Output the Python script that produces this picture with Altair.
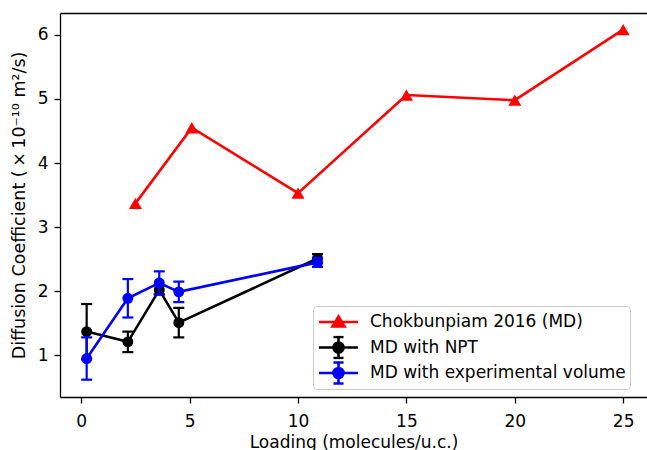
import altair as alt
import pandas as pd

# Diffusion coefficient vs. loading
ref_x = [2.5, 5.1, 10.0, 15.0, 20.0, 25.0]
ref_y = [3.37, 4.55, 3.53, 5.06, 4.98, 6.08]

npt_x = [0.25, 2.15, 3.6, 4.5, 10.9]
npt_y = [1.37, 1.21, 2.02, 1.51, 2.51]
npt_err = [0.43, 0.16, 0.07, 0.23, 0.07]

exp_x = [0.25, 2.15, 3.6, 4.5, 10.9]
exp_y = [0.95, 1.89, 2.13, 1.99, 2.45]
exp_err = [0.33, 0.30, 0.18, 0.16, 0.07]

series_names = ["Chokbunpiam 2016 (MD)", "MD with NPT", "MD with experimental volume"]
series_colors = ["#ff0000", "#000000", "#0000ff"]

x_ticks = [0, 5, 10, 15, 20, 25]
y_ticks = [1, 2, 3, 4, 5, 6]

FONT = "DejaVu Sans"
LW = 2.6

ref = pd.DataFrame({"x": ref_x, "y": ref_y})
npt = pd.DataFrame({"x": npt_x, "y": npt_y, "err": npt_err})
npt["lo"] = npt["y"] - npt["err"]
npt["hi"] = npt["y"] + npt["err"]
exp = pd.DataFrame({"x": exp_x, "y": exp_y, "err": exp_err})
exp["lo"] = exp["y"] - exp["err"]
exp["hi"] = exp["y"] + exp["err"]

xscale = alt.Scale(domain=[-0.98, 26.1], nice=False, zero=False)
yscale = alt.Scale(domain=[0.35, 6.34], nice=False, zero=False)

x_axis = alt.Axis(
    values=x_ticks, title="Loading (molecules/u.c.)", grid=False,
    tickSize=6, tickWidth=1.3, tickColor="black", domainColor="black",
    domainWidth=1.3, labelFont=FONT, labelFontSize=17, labelColor="black",
    labelPadding=10, titleFont=FONT, titleFontSize=17, titleFontWeight="normal",
    titleColor="black", titlePadding=5,
)
y_axis = alt.Axis(
    values=y_ticks, title="Diffusion Coefficient (\u2009×\u200910⁻¹⁰ m²/s)", grid=False,
    tickSize=6, tickWidth=1.3, tickColor="black", domainColor="black",
    domainWidth=1.3, labelFont=FONT, labelFontSize=17, labelColor="black",
    labelPadding=6, titleFont=FONT, titleFontSize=17.5, titleFontWeight="normal",
    titleColor="black", titlePadding=9,
)

X = alt.X("x:Q", scale=xscale, axis=None)
Y = alt.Y("y:Q", scale=yscale, axis=y_axis)
Y_LO = alt.Y("lo:Q", scale=yscale, axis=y_axis)
Y_HI = alt.Y("hi:Q", scale=yscale, axis=y_axis)

# Literature series: line with triangle markers
ref_line = alt.Chart(ref).mark_line(color=series_colors[0], strokeWidth=LW).encode(
    x=alt.X("x:Q", scale=xscale, axis=x_axis),
    y=Y,
)
ref_pts = alt.Chart(ref).mark_point(
    shape="triangle-up", filled=True, size=170, color=series_colors[0], opacity=1
).encode(x=X, y=Y)


def errorbar_series(df, color):
    base = alt.Chart(df)
    line = base.mark_line(color=color, strokeWidth=LW).encode(x=X, y=Y)
    bars = base.mark_rule(color=color, strokeWidth=2.2).encode(x=X, y=Y_LO, y2="hi:Q")
    cap_lo = base.mark_tick(color=color, orient="horizontal", size=11, thickness=2.2, opacity=1).encode(
        x=X, y=Y_LO
    )
    cap_hi = base.mark_tick(color=color, orient="horizontal", size=11, thickness=2.2, opacity=1).encode(
        x=X, y=Y_HI
    )
    pts = base.mark_point(shape="circle", filled=True, size=120, color=color, opacity=1).encode(x=X, y=Y)
    return [line, bars, cap_lo, cap_hi, pts]


# Legend glyphs: line + marker (+ error bar) drawn as custom symbol paths
tri_path = "M-1.63,0 L1.63,0 M0,-0.46 L0.5,0.38 L-0.5,0.38 Z"
circ_eb_path = (
    "M-1.63,0 L1.63,0 M0,-0.88 L0,0.88 M-0.42,-0.88 L0.42,-0.88 M-0.42,0.88 L0.42,0.88 "
    "M0.42,0 A0.42,0.42 0 1,1 -0.42,0 A0.42,0.42 0 1,1 0.42,0 Z"
)
legend_df = pd.DataFrame({"series": series_names, "x": [0, 0, 0], "y": [1, 1, 1]})
legend_layer = alt.Chart(legend_df).transform_filter("false").mark_point(
    filled=False, strokeWidth=LW, opacity=1
).encode(
    x=alt.X("x:Q", scale=xscale, axis=alt.Axis(
        orient="top", labels=False, ticks=False, domain=True, title=None,
        grid=False, domainColor="black", domainWidth=1.3)),
    y=Y,
    color=alt.Color("series:N", scale=alt.Scale(domain=series_names, range=series_colors),
                    legend=alt.Legend(title=None)),
    fill=alt.Fill("series:N", scale=alt.Scale(domain=series_names, range=series_colors),
                  legend=alt.Legend(title=None)),
    shape=alt.Shape("series:N", scale=alt.Scale(domain=series_names,
                                                range=[tri_path, circ_eb_path, circ_eb_path]),
                    legend=alt.Legend(title=None)),
)

layers = [ref_line, ref_pts] + errorbar_series(npt, series_colors[1]) + errorbar_series(exp, series_colors[2]) + [legend_layer]

chart = alt.layer(*layers).resolve_axis(x="independent").properties(
    width=587, height=384,
    padding={"left": 60, "top": 13, "right": 0, "bottom": 53},
    autosize=alt.AutoSizeParams(type="none"),
    background="white",
).configure_view(stroke=None).configure_legend(
    orient="none", legendX=253, legendY=293,
    padding=4, symbolSize=576, symbolOffset=8, labelOffset=18, labelLimit=0,
    clipHeight=24, rowPadding=1.5,
    symbolStrokeWidth=LW, symbolOpacity=1,
    labelFont=FONT, labelFontSize=17, labelColor="black",
    fillColor="white", strokeColor="#cccccc", strokeWidth=1, cornerRadius=4,
)

chart.save("out.html", embed_options={"renderer": "svg", "actions": False})
